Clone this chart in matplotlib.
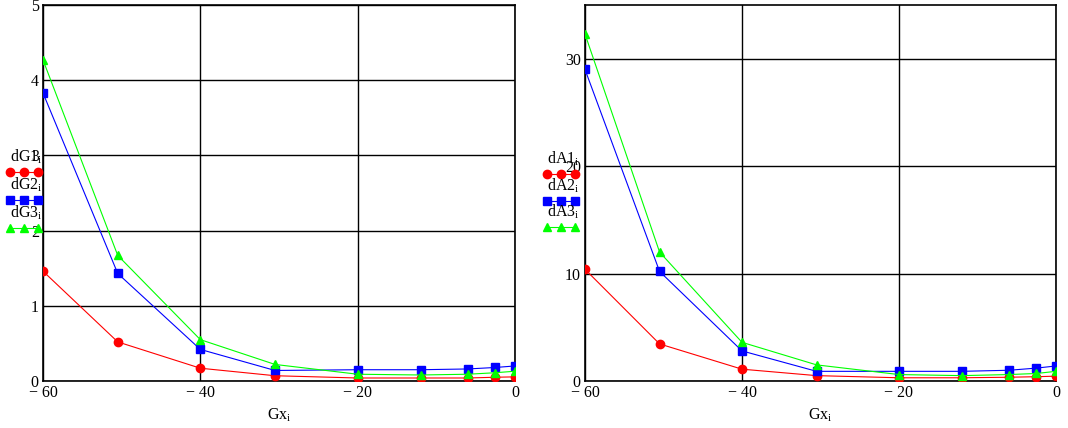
import matplotlib.pyplot as plt
from matplotlib.lines import Line2D

# x values (Gx_i) shared by both charts
gx = [-60, -50.5, -40, -30.5, -20, -12, -6, -2.5, 0]

# left chart
dG1 = [1.46, 0.52, 0.17, 0.07, 0.04, 0.04, 0.04, 0.05, 0.055]
dG2 = [3.83, 1.43, 0.42, 0.14, 0.15, 0.15, 0.16, 0.18, 0.20]
dG3 = [4.27, 1.67, 0.55, 0.22, 0.09, 0.08, 0.09, 0.11, 0.13]

# right chart
dA1 = [10.4, 3.45, 1.1, 0.5, 0.3, 0.3, 0.35, 0.4, 0.45]
dA2 = [29.0, 10.2, 2.8, 0.9, 0.9, 0.9, 1.0, 1.2, 1.4]
dA3 = [32.3, 12.0, 3.6, 1.5, 0.6, 0.5, 0.6, 0.7, 0.9]

x_ticks = [-60, -40, -20, 0]
x_labels = ['\u2212 60', '\u2212 40', '\u2212 20', '0']

W, H = 1068, 428
serif = 'Liberation Serif'
styles = [('red', 'o'), ('blue', 's'), ('lime', '^')]

fig = plt.figure(figsize=(W / 100, H / 100), dpi=100)


def make_axes(x0, x1, ylim, yticks, series, names, leg_x, leg_ys):
    ax = fig.add_axes([x0 / W, 1 - 381 / H, (x1 - x0) / W, (381 - 5) / H])
    for (c, m), ys in zip(styles, series):
        ax.plot(gx, ys, color=c, marker=m, markersize=6, linewidth=0.8, zorder=3)
    ax.set_xlim(-60, 0)
    ax.set_ylim(*ylim)
    ax.set_xticks(x_ticks)
    ax.set_xticklabels(x_labels, family=serif, fontsize=11.5)
    ax.set_yticks(yticks)
    ax.set_yticklabels([str(t) for t in yticks], family=serif, fontsize=11.5)
    ax.tick_params(length=0, pad=3)
    ax.grid(True, color='black', linewidth=1)
    for s in ax.spines.values():
        s.set_color('black')
        s.set_linewidth(1.2)
    ax.set_xlabel('Gx$_\\mathregular{i}$', family=serif, fontsize=11.5, labelpad=4)

    # legend drawn to the left of the plot
    for (c, m), name, ly in zip(styles, names, leg_ys):
        fig.text(leg_x / W, 1 - ly / H, name + '$_\\mathregular{i}$', family=serif,
                 fontsize=11.5, va='center', ha='left')
        mk = Line2D([(leg_x) / W, (leg_x + 28) / W], [1 - (ly + 15) / H] * 2,
                    transform=fig.transFigure, color=c, marker=m, markersize=6,
                    linewidth=0.8)
        mid = Line2D([(leg_x + 14) / W], [1 - (ly + 15) / H], transform=fig.transFigure,
                     color=c, marker=m, markersize=6, linestyle='none')
        fig.lines.extend([mk, mid])
    return ax


make_axes(43, 515, (0, 5), [0, 1, 2, 3, 4, 5], [dG1, dG2, dG3],
          ['dG1', 'dG2', 'dG3'], 10, [157, 185, 213])
make_axes(585, 1056, (0, 35), [0, 10, 20, 30], [dA1, dA2, dA3],
          ['dA1', 'dA2', 'dA3'], 547, [159, 186, 212])

fig.savefig('out.png', dpi=100)
